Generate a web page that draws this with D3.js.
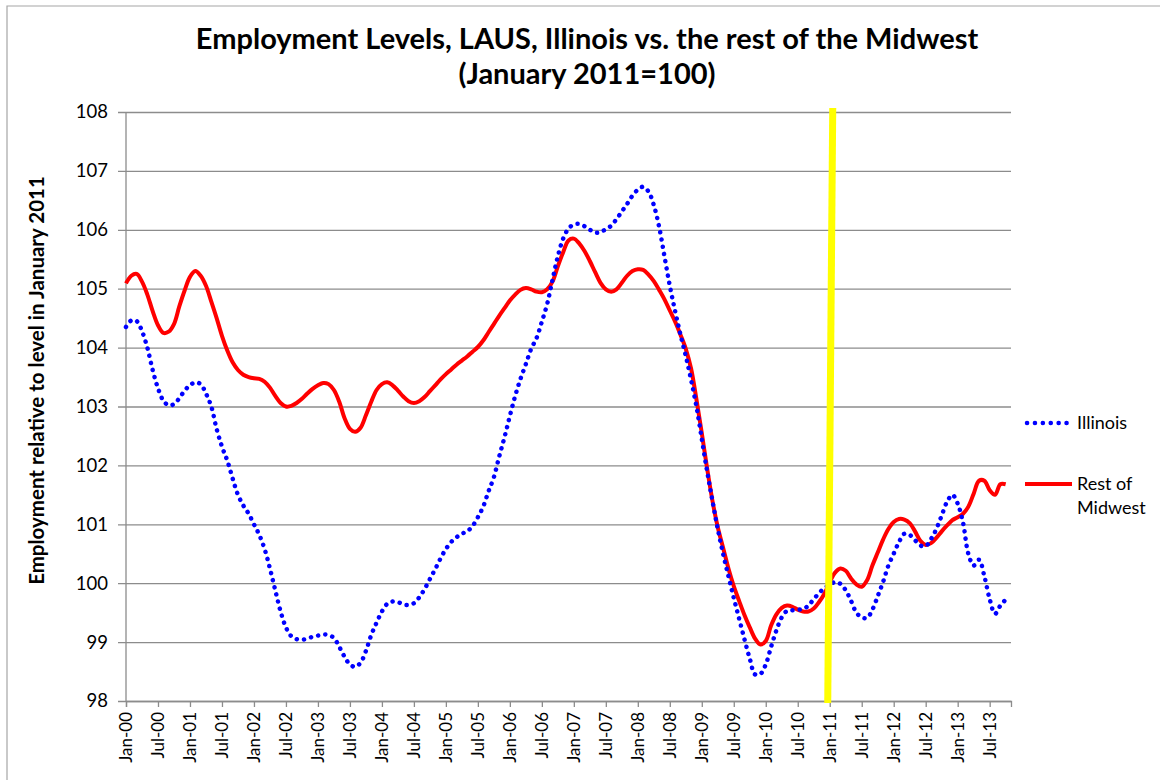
<!DOCTYPE html>
<html>
<head>
<meta charset="utf-8">
<script src="https://cdn.jsdelivr.net/npm/d3@7"></script>
<style>
  body { margin: 0; background: #fff; }
  svg text { font-family: Lato, "Open Sans", sans-serif; fill: #000; }
</style>
</head>
<body>
<div id="myChart"><svg></svg></div>
<script>
// monthly index values, Jan-2000 .. Oct-2013 (January 2011 = 100)
const illinois = [
  104.35, 104.46, 104.45, 104.28, 104.00, 103.62, 103.31, 103.10, 103.02, 103.04, 103.14, 103.27,
  103.36, 103.41, 103.38, 103.22, 103.00, 102.62, 102.32, 102.08, 101.78, 101.50, 101.32, 101.18,
  101.00, 100.82, 100.58, 100.25, 99.88, 99.52, 99.25, 99.10, 99.05, 99.04, 99.06, 99.09,
  99.11, 99.13, 99.12, 99.07, 98.92, 98.75, 98.62, 98.58, 98.65, 98.85, 99.12, 99.33,
  99.52, 99.65, 99.69, 99.68, 99.64, 99.63, 99.66, 99.76, 99.90, 100.07, 100.24, 100.42,
  100.58, 100.70, 100.78, 100.84, 100.88, 100.97, 101.12, 101.30, 101.56, 101.80, 102.15, 102.48,
  102.84, 103.18, 103.47, 103.72, 103.98, 104.16, 104.44, 104.74, 105.15, 105.55, 105.85, 106.02,
  106.09, 106.10, 106.06, 106.00, 105.95, 105.96, 106.01, 106.07, 106.18, 106.31, 106.44, 106.58,
  106.68, 106.73, 106.65, 106.42, 106.05, 105.55, 105.05, 104.62, 104.22, 103.86, 103.45, 103.00,
  102.45, 101.90, 101.40, 100.92, 100.50, 100.12, 99.75, 99.40, 99.05, 98.72, 98.45, 98.46,
  98.62, 98.92, 99.20, 99.42, 99.53, 99.54, 99.55, 99.56, 99.62, 99.73, 99.83, 99.92,
  99.97, 100.02, 99.99, 99.88, 99.70, 99.50, 99.42, 99.41, 99.55, 99.78, 100.02, 100.30,
  100.50, 100.70, 100.84, 100.82, 100.73, 100.64, 100.63, 100.75, 100.92, 101.15, 101.38, 101.50,
  101.35, 101.03, 100.50, 100.30, 100.40, 100.12, 99.73, 99.48, 99.62, 99.72
];

const restOfMidwest = [
  105.09, 105.22, 105.25, 105.12, 104.90, 104.62, 104.38, 104.25, 104.27, 104.40, 104.70, 104.97,
  105.20, 105.30, 105.22, 105.05, 104.78, 104.50, 104.20, 103.95, 103.75, 103.62, 103.54, 103.50,
  103.48, 103.47, 103.42, 103.32, 103.18, 103.06, 103.00, 103.01, 103.06, 103.13, 103.22, 103.30,
  103.36, 103.40, 103.38, 103.28, 103.08, 102.80, 102.62, 102.57, 102.64, 102.85, 103.08, 103.28,
  103.38, 103.41, 103.36, 103.27, 103.17, 103.09, 103.06, 103.09, 103.16, 103.26, 103.36, 103.46,
  103.55, 103.63, 103.71, 103.78, 103.85, 103.93, 104.01, 104.12, 104.26, 104.40, 104.54, 104.67,
  104.80, 104.90, 104.98, 105.01, 104.99, 104.95, 104.94, 104.99, 105.12, 105.38, 105.62, 105.82,
  105.85, 105.77, 105.64, 105.47, 105.28, 105.10, 104.99, 104.95, 104.99, 105.10, 105.22, 105.30,
  105.33, 105.32, 105.24, 105.13, 104.98, 104.82, 104.63, 104.44, 104.22, 103.98, 103.64, 103.12,
  102.55, 101.95, 101.40, 100.95, 100.60, 100.25, 99.95, 99.70, 99.46, 99.25, 99.06, 98.96,
  99.02, 99.28, 99.47, 99.58, 99.62, 99.60, 99.55, 99.52, 99.52, 99.57, 99.68, 99.82,
  100.02, 100.18, 100.25, 100.21, 100.08, 99.98, 99.94, 100.05, 100.30, 100.52, 100.74, 100.92,
  101.04, 101.09, 101.08, 101.02, 100.88, 100.72, 100.65, 100.68, 100.77, 100.88, 100.98, 101.07,
  101.12, 101.18, 101.30, 101.52, 101.74, 101.74, 101.58, 101.50, 101.68, 101.68
];

const tickLabels = [
  'Jan-00', 'Jul-00', 'Jan-01', 'Jul-01', 'Jan-02', 'Jul-02', 'Jan-03', 'Jul-03',
  'Jan-04', 'Jul-04', 'Jan-05', 'Jul-05', 'Jan-06', 'Jul-06', 'Jan-07', 'Jul-07',
  'Jan-08', 'Jul-08', 'Jan-09', 'Jul-09', 'Jan-10', 'Jul-10', 'Jan-11', 'Jul-11',
  'Jan-12', 'Jul-12', 'Jan-13', 'Jul-13'
];
const yTicks = [98, 99, 100, 101, 102, 103, 104, 105, 106, 107, 108];
const baseMonth = 132; // January 2011

const margin = {top: 112, right: 149, bottom: 79, left: 126};
const width = 1160 - margin.left - margin.right;
const height = 780 - margin.top - margin.bottom;

const root = d3.select('#myChart').select('svg')
    .attr('width', 1160)
    .attr('height', 780);

// chart frame
root.append('path')
    .attr('d', 'M7,790 V6 H1170')
    .attr('fill', 'none')
    .attr('stroke', '#a6a6a6')
    .attr('stroke-width', 1.2);

const svg = root.append('g')
    .attr('transform', `translate(${margin.left},${margin.top})`);

const x = d3.scaleLinear().domain([0, 166]).range([0, width]);
const y = d3.scaleLinear().domain([98, 108]).range([height, 0]);

// gridlines + y axis
const yAxis = svg.append('g')
    .call(d3.axisLeft(y).tickValues(yTicks).tickSize(-width - 8).tickPadding(10).tickFormat(d3.format('d')))
    .attr('transform', 'translate(-8,0)');
yAxis.select('.domain').remove();
yAxis.selectAll('line').attr('stroke', '#8c8c8c').attr('stroke-width', 1.3);
yAxis.selectAll('text').style('font-size', '18.5px').attr('x', -10);

svg.append('line')
    .attr('x1', 0).attr('x2', 0).attr('y1', 0).attr('y2', height)
    .attr('stroke', '#8c8c8c').attr('stroke-width', 1.3);

// x axis
const xAxis = svg.append('g')
    .attr('transform', `translate(0,${height})`)
    .call(d3.axisBottom(x).tickValues(tickLabels.map((d, i) => i * 6)).tickSize(6)
        .tickFormat((d, i) => tickLabels[i]));
xAxis.select('.domain').attr('stroke', '#8c8c8c').attr('stroke-width', 1.3);
xAxis.selectAll('line').attr('stroke', '#8c8c8c').attr('stroke-width', 1.3);
xAxis.selectAll('text')
    .style('font-size', '17px')
    .attr('text-anchor', 'end')
    .attr('transform', 'rotate(-90)')
    .attr('x', -11)
    .attr('y', 0)
    .attr('dy', '0.35em');

// lines
const line = d3.line()
    .x((d, i) => x(i))
    .y(d => y(d))
    .curve(d3.curveCatmullRom.alpha(0.5));

svg.append('path')
    .datum(restOfMidwest)
    .attr('d', line)
    .attr('fill', 'none')
    .attr('stroke', '#ff0000')
    .attr('stroke-width', 4)
    .attr('stroke-linejoin', 'round');

svg.append('path')
    .datum(illinois)
    .attr('d', line)
    .attr('fill', 'none')
    .attr('stroke', '#0000ff')
    .attr('stroke-width', 4.5)
    .attr('stroke-linecap', 'round')
    .attr('stroke-dasharray', '0.1 7.2');

// January 2011 marker
svg.append('line')
    .attr('x1', x(baseMonth) + 3).attr('y1', -4)
    .attr('x2', x(baseMonth) - 2).attr('y2', height + 2)
    .attr('stroke', '#ffff00')
    .attr('stroke-width', 7);

// titles
root.append('text')
    .attr('x', 587).attr('y', 49)
    .attr('text-anchor', 'middle')
    .style('font-size', '29px').style('font-weight', 'bold')
    .text('Employment Levels, LAUS, Illinois vs. the rest of the Midwest');
root.append('text')
    .attr('x', 587).attr('y', 84)
    .attr('text-anchor', 'middle')
    .style('font-size', '29px').style('font-weight', 'bold')
    .text('(January 2011=100)');

root.append('text')
    .attr('transform', `translate(44,${margin.top + height / 2 - 26}) rotate(-90)`)
    .attr('text-anchor', 'middle')
    .style('font-size', '20.5px').style('font-weight', 'bold')
    .text('Employment relative to level in January 2011');

// legend
const legend = root.append('g').attr('transform', 'translate(1025,0)');
legend.append('line')
    .attr('x1', 2).attr('x2', 42).attr('y1', 423).attr('y2', 423)
    .attr('stroke', '#0000ff').attr('stroke-width', 4.5)
    .attr('stroke-linecap', 'round').attr('stroke-dasharray', '0.1 7.8');
legend.append('text').attr('x', 52).attr('y', 429).style('font-size', '18px').text('Illinois');

legend.append('line')
    .attr('x1', 0).attr('x2', 47).attr('y1', 484).attr('y2', 484)
    .attr('stroke', '#ff0000').attr('stroke-width', 4);
legend.append('text').attr('x', 52).attr('y', 490).style('font-size', '18px').text('Rest of');
legend.append('text').attr('x', 52).attr('y', 514).style('font-size', '18px').text('Midwest');
</script>
</body>
</html>
